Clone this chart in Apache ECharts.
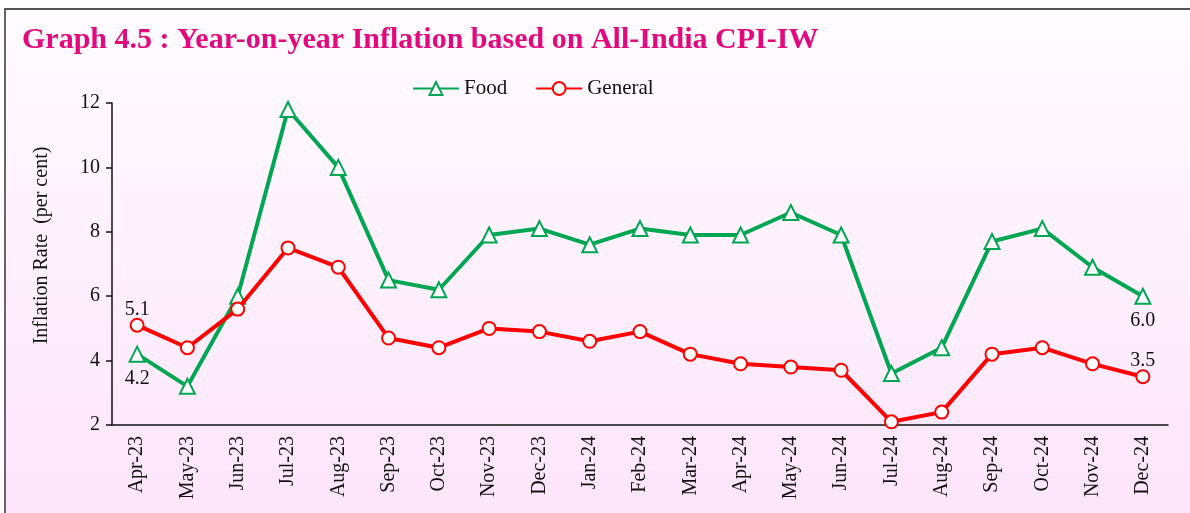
<!DOCTYPE html>
<html>
<head>
<meta charset="utf-8">
<script src="https://cdn.jsdelivr.net/npm/echarts@6/dist/echarts.min.js"></script>
<style>
  html, body { margin: 0; padding: 0; }
  body { width: 1190px; height: 513px; overflow: hidden; }
  .frame {
    position: absolute; left: 4px; top: 8px; width: 1190px; height: 513px;
    border-top: 2px solid #555; border-left: 2px solid #666;
    background: linear-gradient(#fffcff, #fde4fa);
  }
  #chart { position: absolute; left: 0; top: 0; width: 1190px; height: 513px; }
</style>
</head>
<body>
<div class="frame"></div>
<div id="chart"></div>
<script>
// months shown on the x axis
var months = ['Apr-23', 'May-23', 'Jun-23', 'Jul-23', 'Aug-23', 'Sep-23', 'Oct-23', 'Nov-23', 'Dec-23',
  'Jan-24', 'Feb-24', 'Mar-24', 'Apr-24', 'May-24', 'Jun-24', 'Jul-24', 'Aug-24', 'Sep-24', 'Oct-24', 'Nov-24', 'Dec-24'];
// year-on-year inflation, per cent
var food = [4.2, 3.2, 6.0, 11.8, 10.0, 6.5, 6.2, 7.9, 8.1, 7.6, 8.1, 7.9, 7.9, 8.6, 7.9, 3.6, 4.4, 7.7, 8.1, 6.9, 6.0];
var general = [5.1, 4.4, 5.6, 7.5, 6.9, 4.7, 4.4, 5.0, 4.9, 4.6, 4.9, 4.2, 3.9, 3.8, 3.7, 2.1, 2.4, 4.2, 4.4, 3.9, 3.5];

var serif = '"Liberation Serif", "DejaVu Serif", serif';

// label only the first and last point of each line
function withEndLabels(values, pos) {
  var last = values.length - 1;
  return values.map(function (v, i) {
    if (i === 0 || i === last) {
      return { value: v, label: { show: true, position: pos, formatter: function (p) { return p.value.toFixed(1); } } };
    }
    return v;
  });
}

var myChart = echarts.init(document.getElementById('chart'));
var option = {
  backgroundColor: 'transparent',
  title: {
    text: 'Graph 4.5 : Year-on-year Inflation based on All-India CPI-IW',
    left: 17,
    top: 20,
    textStyle: { fontFamily: serif, fontSize: 30, fontWeight: 'bold', color: '#e2097f' }
  },
  legend: {
    left: 407,
    top: 73,
    itemWidth: 46,
    itemHeight: 16,
    itemGap: 28,
    textStyle: { fontFamily: serif, fontSize: 21, color: '#111' },
    data: ['Food', 'General']
  },
  grid: { left: 112, right: 22, top: 103, bottom: 88 },
  xAxis: {
    type: 'category',
    data: months,
    boundaryGap: true,
    axisLine: { lineStyle: { color: '#111', width: 1.5 } },
    axisTick: { alignWithLabel: true, length: 6, lineStyle: { color: '#111', width: 1.5 } },
    axisLabel: { rotate: 90, margin: 11, fontFamily: serif, fontSize: 20, color: '#111', interval: 0 }
  },
  yAxis: {
    type: 'value',
    min: 2,
    max: 12,
    interval: 2,
    name: 'Inflation Rate  (per cent)',
    nameLocation: 'middle',
    nameGap: 60,
    nameTextStyle: { fontFamily: serif, fontSize: 20, color: '#111', padding: [0, 0, 0, 37] },
    splitLine: { show: false },
    axisLine: { show: true, lineStyle: { color: '#111', width: 1.5 } },
    axisTick: { show: true, length: 6, lineStyle: { color: '#111', width: 1.5 } },
    axisLabel: { margin: 12, fontFamily: serif, fontSize: 20, color: '#111' }
  },
  series: [
    {
      name: 'Food',
      type: 'line',
      data: withEndLabels(food, 'bottom'),
      symbol: 'triangle',
      symbolSize: 15,
      lineStyle: { color: '#00a651', width: 4 },
      itemStyle: { color: '#fff', borderColor: '#00a651', borderWidth: 2 },
      label: { fontFamily: serif, fontSize: 20, color: '#111', distance: 6 },
      emphasis: { disabled: true },
      z: 3
    },
    {
      name: 'General',
      type: 'line',
      data: withEndLabels(general, 'top'),
      symbol: 'circle',
      symbolSize: 13,
      lineStyle: { color: '#ff0000', width: 4 },
      itemStyle: { color: '#fff', borderColor: '#ff0000', borderWidth: 2 },
      label: { fontFamily: serif, fontSize: 20, color: '#111', distance: -2 },
      emphasis: { disabled: true },
      z: 4
    }
  ]
};
option && myChart.setOption(option);
</script>
</body>
</html>
